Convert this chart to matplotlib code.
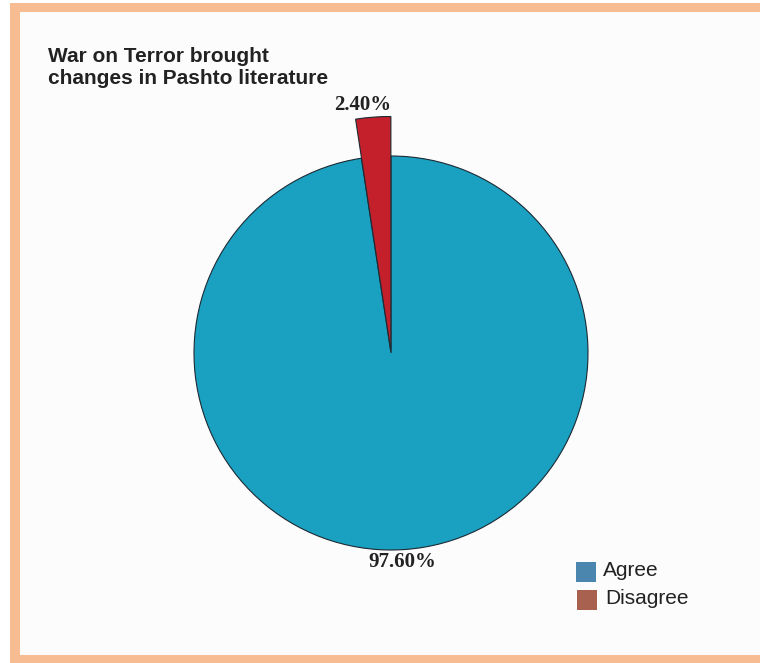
import matplotlib.pyplot as plt
from matplotlib.patches import Rectangle

labels = ['Disagree', 'Agree']
values = [2.4, 97.6]
pct_text = ['2.40%', '97.60%']
pie_colors = ['#c4202c', '#1aa0c1']
legend_labels = ['Agree', 'Disagree']
legend_colors = ['#4a86ad', '#a8614f']

fig = plt.figure(figsize=(7.6, 6.63), dpi=100)
fig.patch.set_facecolor('white')

# orange frame (left, top, bottom) and pale inner panel
W, H = 760, 663
orange = '#f7bc91'
fig.patches.append(Rectangle((10 / W, 0), 750 / W, 1 - 3 / H, transform=fig.transFigure,
                             facecolor=orange, edgecolor='none', zorder=-10))
fig.patches.append(Rectangle((20 / W, 8 / H), 740 / W, (H - 12 - 8) / H, transform=fig.transFigure,
                             facecolor='#fcfcfc', edgecolor='none', zorder=-9))

ax = fig.add_axes([0, 0, 1, 1])
ax.set_zorder(5)

cx, cy, r = 391, H - 353, 197
wedges, _ = ax.pie(values, colors=pie_colors, startangle=90, counterclock=True,
                   center=(cx, cy), radius=r, explode=[1.5, 0],
                   wedgeprops=dict(edgecolor='#1c2a33', linewidth=0.8))
wedges[0].set_radius(235)
wedges[0].set_zorder(3)
ax.set_xlim(0, W)
ax.set_ylim(0, H)
ax.set_aspect('equal')
ax.axis('off')

ax.text(363, H - 105, pct_text[0], ha='center', va='center', fontsize=15,
        fontweight='bold', family='Liberation Serif', color='#222222')
ax.text(402, H - 562, pct_text[1], ha='center', va='center', fontsize=15,
        fontweight='bold', family='Liberation Serif', color='#222222')

ax.text(48, H - 68, 'War on Terror brought\nchanges in Pashto literature', ha='left', va='center',
        fontsize=15, fontweight='bold', family='Liberation Sans', color='#222222',
        linespacing=1.2)

for i, (lab, col) in enumerate(zip(legend_labels, legend_colors)):
    y = H - 572 - i * 28
    ax.add_patch(Rectangle((576 + i, y - 10), 20, 20, facecolor=col, edgecolor='none'))
    ax.text(603 + i * 2, y + 1, lab, ha='left', va='center', fontsize=15,
            family='Liberation Sans', color='#222222')

fig.savefig('out.png', dpi=100, facecolor=fig.get_facecolor())
